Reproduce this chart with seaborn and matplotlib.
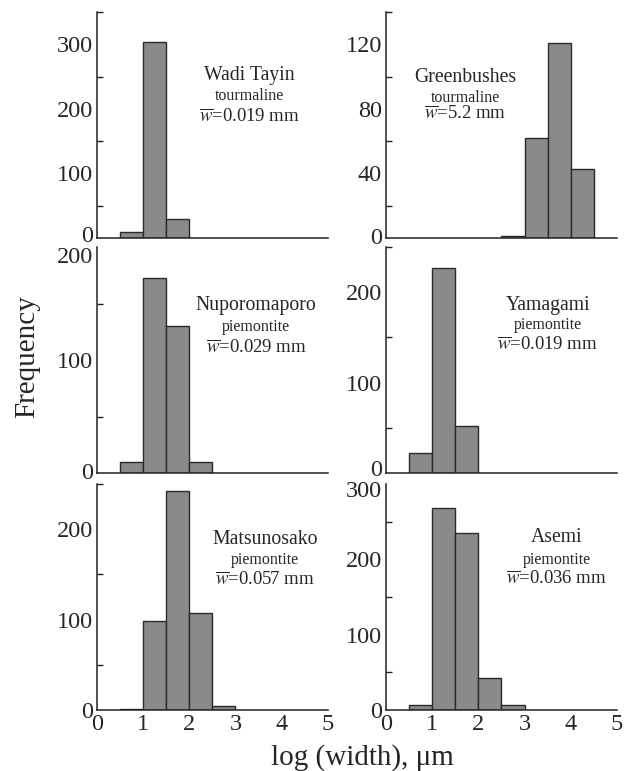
import numpy as np
import pandas as pd
import matplotlib
matplotlib.use('Agg')
import matplotlib.pyplot as plt
import seaborn as sns
from matplotlib.ticker import MultipleLocator
from matplotlib.transforms import ScaledTranslation

sns.set_style('white')
plt.rcParams['font.family'] = ['Liberation Serif', 'DejaVu Serif']
plt.rcParams['mathtext.fontset'] = 'stix'

# histogram data: left edge of each 0.5-wide bin in log(width) and its count
sites = ['Wadi Tayin', 'Greenbushes', 'Nuporomaporo', 'Yamagami', 'Matsunosako', 'Asemi']
minerals = ['tourmaline', 'tourmaline', 'piemontite', 'piemontite', 'piemontite', 'piemontite']
mean_width = ['0.019', '5.2', '0.029', '0.019', '0.057', '0.036']

wadi_bins = [0.5, 1.0, 1.5]
wadi_counts = [9, 303, 30]
green_bins = [2.5, 3.0, 3.5, 4.0]
green_counts = [1, 62, 121, 43]
nupo_bins = [0.5, 1.0, 1.5, 2.0]
nupo_counts = [10, 173, 130, 10]
yama_bins = [0.5, 1.0, 1.5]
yama_counts = [22, 227, 52]
matsu_bins = [0.5, 1.0, 1.5, 2.0, 2.5]
matsu_counts = [1, 98, 242, 107, 4]
asemi_bins = [0.5, 1.0, 1.5, 2.0, 2.5]
asemi_counts = [6, 268, 235, 42, 6]

all_bins = [wadi_bins, green_bins, nupo_bins, yama_bins, matsu_bins, asemi_bins]
all_counts = [wadi_counts, green_counts, nupo_counts, yama_counts, matsu_counts, asemi_counts]

y_max = [350, 140, 200, 250, 250, 300]
y_major = [100, 40, 100, 100, 100, 100]
text_pos = [(0.662, 0.72, 0.628, 0.535), (0.342, 0.712, 0.62, 0.549),
            (0.69, 0.741, 0.645, 0.553), (0.70, 0.743, 0.655, 0.566),
            (0.727, 0.757, 0.664, 0.575), (0.74, 0.765, 0.664, 0.58)]
# small nudges (pixels) of the bottom / top y tick labels, as in the scan
zero_shift = [4, 2, 2, 5, 0, 0]
top_shift = [0, 0, -8, 0, 0, -5]

fig = plt.figure(figsize=(6.24, 7.71), dpi=100)
lefts = [0.1554, 0.6186]
bottoms = [0.6913, 0.3865, 0.0791]
axes = []

for i in range(6):
    r, c = divmod(i, 2)
    ax = fig.add_axes([lefts[c], bottoms[r], 0.370, 0.293])
    axes.append(ax)
    df = pd.DataFrame({'x': np.array(all_bins[i]) + 0.25, 'n': all_counts[i]})
    lo = min(all_bins[i])
    hi = max(all_bins[i]) + 0.5
    sns.histplot(data=df, x='x', weights='n', binwidth=0.5, binrange=(lo, hi),
                 color='#8a8a8a', edgecolor='#2a2a2a', linewidth=1.0, alpha=1, ax=ax)
    ax.set_xlim(0, 5)
    ax.set_ylim(0, y_max[i])
    ax.set_xlabel('')
    ax.set_ylabel('')
    ax.xaxis.set_major_locator(MultipleLocator(1))
    ax.yaxis.set_major_locator(MultipleLocator(y_major[i]))
    ax.yaxis.set_minor_locator(MultipleLocator(y_major[i] / 2))
    for s in ['top', 'right']:
        ax.spines[s].set_visible(False)
    for s in ['left', 'bottom']:
        ax.spines[s].set_color('#222222')
        ax.spines[s].set_linewidth(1.1)
    ax.tick_params(axis='both', which='both', direction='in', color='#222222',
                   labelsize=17.5, width=1.0)
    ax.tick_params(axis='both', which='major', length=6, pad=3)
    ax.tick_params(axis='y', which='minor', left=True, length=4)
    if r < 2:
        ax.set_xticklabels([])
    xt, y1, y2, y3 = text_pos[i]
    ax.text(xt, y1, sites[i], transform=ax.transAxes, ha='center', va='center', fontsize=14.2)
    ax.text(xt, y2, minerals[i], transform=ax.transAxes, ha='center', va='center', fontsize=11.5)
    ax.text(xt, y3, r'$\overline{w}$=' + mean_width[i] + ' mm', transform=ax.transAxes,
            ha='center', va='center', fontsize=13.5)

fig.text(0.043, 0.537, 'Frequency', rotation=90, ha='center', va='center', fontsize=21)
fig.text(0.58, 0.018, 'log (width), \u03bcm', ha='center', va='center', fontsize=21)

fig.canvas.draw()
for i, ax in enumerate(axes):
    ticks = ax.yaxis.get_major_ticks()
    locs = ax.yaxis.get_majorticklocs()
    for t, v in zip(ticks, locs):
        dy = 0
        if v == 0:
            dy = zero_shift[i]
        elif abs(v - y_max[i]) < 1e-9:
            dy = top_shift[i]
        if dy:
            t.label1.set_transform(t.label1.get_transform() +
                                   ScaledTranslation(0, dy / 100, fig.dpi_scale_trans))

fig.savefig('out.png', dpi=100, facecolor='white')
